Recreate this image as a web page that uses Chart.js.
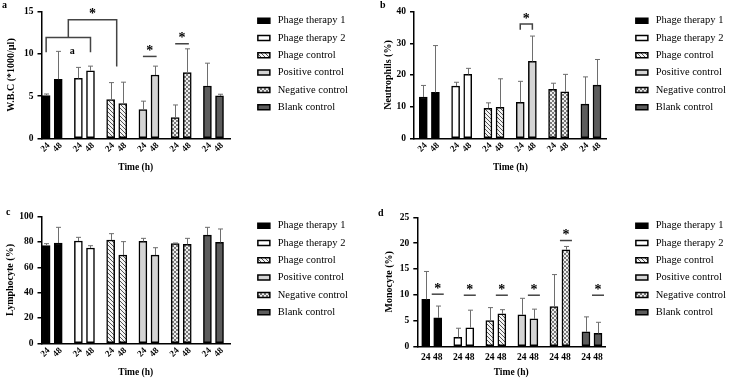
<!DOCTYPE html>
<html>
<head>
<meta charset="utf-8">
<script src="https://cdn.jsdelivr.net/npm/chart.js@4.4.1/dist/chart.umd.min.js"></script>
<style>
  html, body { margin: 0; padding: 0; background: #fff; overflow: hidden; }
  body { width: 729px; height: 383px; position: relative; }
  canvas { position: absolute; }
  .tag { position: absolute; font: bold 10px "Liberation Serif", serif; color: #000; line-height: 10px; }
</style>
</head>
<body>
<canvas id="ca" width="358" height="178" style="left:0;top:0"></canvas>
<canvas id="cb" width="372" height="178" style="left:364px;top:0"></canvas>
<canvas id="cc" width="358" height="178" style="left:0;top:205px"></canvas>
<canvas id="cd" width="372" height="178" style="left:364px;top:205px"></canvas>
<div class="tag" style="left:2px;top:0px">a</div>
<div class="tag" style="left:380px;top:0px">b</div>
<div class="tag" style="left:6px;top:207px">c</div>
<div class="tag" style="left:378px;top:208px">d</div>
<script>
const GROUPS = ['Phage therapy 1', 'Phage therapy 2', 'Phage control', 'Positive control', 'Negative control', 'Blank control'];
const TIMES = ['24', '48'];
// slot of each bar on the x axis (pairs of 24h / 48h, gap between groups)
const SLOTS = [0, 3, 8, 11, 16, 19, 24, 27, 32, 35, 40, 43];

// a: W.B.C
const wbcMean = [5.05, 7.0, 7.1, 8.0, 4.6, 4.1, 3.4, 7.5, 2.45, 7.8, 6.2, 5.02];
const wbcSd   = [0.2, 3.3, 1.3, 0.55, 2.0, 2.55, 1.0, 1.05, 1.5, 2.8, 2.7, 0.2];
// b: Neutrophils
const neuMean = [13.05, 14.5, 16.5, 20.2, 9.5, 9.8, 11.4, 24.3, 15.5, 14.7, 10.8, 16.8];
const neuSd   = [3.65, 14.8, 1.2, 1.9, 1.7, 9.0, 6.6, 8.0, 1.9, 5.5, 8.6, 8.1];
// c: Lymphocyte
const lymMean = [77.1, 79.2, 80.8, 75.3, 81.6, 69.7, 80.5, 69.7, 78.7, 78.2, 85.5, 79.7];
const lymSd   = [1.6, 12.4, 2.9, 1.8, 5.0, 10.6, 2.4, 5.8, 0.5, 4.7, 6.1, 10.6];
// d: Monocyte
const monMean = [9.1, 5.5, 1.74, 3.6, 5.0, 6.3, 6.1, 5.3, 7.7, 18.7, 2.8, 2.5];
const monSd   = [5.4, 2.3, 1.76, 3.4, 2.5, 0.8, 3.2, 1.9, 6.2, 0.65, 2.9, 2.15];

// significance marks: x in slot units, y in data units
const sigA = [
  {x1: 0, x2: 11, y: 11.95, d1: 10.2, d2: 10.2},
  {x1: 5.5, x2: 17.5, y: 14.05, d1: 11.95, d2: 8.5, star: true},
  {text: 'a', x: 6.5, y: 10.3},
  {x1: 24, x2: 27.4, y: 9.7, star: true},
  {x1: 32, x2: 35.4, y: 11.2, star: true}
];
const sigB = [{x1: 24, x2: 27, y: 36.1, d1: 34.3, d2: 34.3, star: true}];
const sigD = [
  {x1: 1.5, x2: 4.5, y: 10.1, star: true},
  {x1: 9.5, x2: 12.5, y: 9.9, star: true},
  {x1: 17.5, x2: 20.5, y: 9.9, star: true},
  {x1: 25.5, x2: 28.5, y: 9.9, star: true},
  {x1: 33.5, x2: 36.5, y: 20.5, star: true},
  {x1: 41.5, x2: 44.5, y: 9.9, star: true}
];

Chart.defaults.font.family = '"Liberation Serif", "Times New Roman", serif';
Chart.defaults.color = '#000';

function pattern(draw) {
  const c = document.createElement('canvas');
  c.width = 4; c.height = 4;
  const g = c.getContext('2d');
  draw(g);
  return g.createPattern(c, 'repeat');
}
const hatch = pattern(g => {
  g.fillStyle = '#f4f4f4'; g.fillRect(0, 0, 4, 4);
  g.strokeStyle = '#555'; g.lineWidth = 1;
  g.beginPath();
  g.moveTo(0, 0); g.lineTo(4, 4);
  g.moveTo(-1, 3); g.lineTo(1, 5);
  g.moveTo(3, -1); g.lineTo(5, 1);
  g.stroke();
});
const checker = pattern(g => {
  g.fillStyle = '#eeeeee'; g.fillRect(0, 0, 4, 4);
  g.fillStyle = '#7a7a7a'; g.fillRect(0, 0, 2, 2); g.fillRect(2, 2, 2, 2);
});
const FILLS = ['#000000', '#ffffff', hatch, '#d4d4d4', checker, '#5c5c5c'];

// one-sided error bars (mean + SD)
const errorBars = {
  id: 'errorBars',
  afterDatasetsDraw(chart) {
    const ctx = chart.ctx, ys = chart.scales.y;
    ctx.save();
    ctx.strokeStyle = '#6e6e6e';
    ctx.lineWidth = 1;
    chart.data.datasets.forEach((ds, i) => {
      chart.getDatasetMeta(i).data.forEach((bar, j) => {
        const top = ys.getPixelForValue(ds.data[j].y + ds.sd[j]);
        const x = Math.round(bar.x) + 0.5;
        ctx.beginPath();
        ctx.moveTo(x, bar.y);
        ctx.lineTo(x, top);
        ctx.moveTo(x - 2.5, top);
        ctx.lineTo(x + 2.5, top);
        ctx.stroke();
      });
    });
    ctx.restore();
  }
};

// brackets, lines and stars
const sigMarks = {
  id: 'sig',
  afterDraw(chart, args, opts) {
    const items = opts.items || [];
    const ctx = chart.ctx, xs = chart.scales.x, ys = chart.scales.y;
    ctx.save();
    ctx.strokeStyle = '#444';
    ctx.lineWidth = 1.5;
    ctx.fillStyle = '#000';
    ctx.textAlign = 'center';
    items.forEach(it => {
      if (it.text) {
        ctx.font = 'bold 10px "Liberation Serif"';
        ctx.textBaseline = 'middle';
        ctx.fillText(it.text, xs.getPixelForValue(it.x), ys.getPixelForValue(it.y));
        return;
      }
      const x1 = xs.getPixelForValue(it.x1), x2 = xs.getPixelForValue(it.x2);
      const y = ys.getPixelForValue(it.y);
      ctx.beginPath();
      if (it.d1 !== undefined) {
        ctx.moveTo(x1, ys.getPixelForValue(it.d1));
        ctx.lineTo(x1, y);
        ctx.lineTo(x2, y);
        ctx.lineTo(x2, ys.getPixelForValue(it.d2));
      } else {
        ctx.moveTo(x1, y);
        ctx.lineTo(x2, y);
      }
      ctx.stroke();
      if (it.star) {
        ctx.font = 'bold 14px "Liberation Serif"';
        ctx.textBaseline = 'alphabetic';
        ctx.fillText('*', (x1 + x2) / 2, y - 8 + 6.6);
      }
    });
    ctx.restore();
  }
};

function build(id, means, sds, p) {
  const datasets = GROUPS.map((name, g) => ({
    label: name,
    data: [0, 1].map(k => ({x: SLOTS[2 * g + k], y: means[2 * g + k]})),
    sd: [sds[2 * g], sds[2 * g + 1]],
    backgroundColor: FILLS[g],
    borderColor: '#000',
    borderWidth: 1.5,
    borderSkipped: false,
    barThickness: 8,
    grouped: false,
    xAxisID: 'x',
    yAxisID: 'y'
  }));
  const H = 178;
  const off = {display: false, drawTicks: false};
  return new Chart(document.getElementById(id), {
    type: 'bar',
    data: {datasets},
    plugins: [errorBars, sigMarks],
    options: {
      responsive: false,
      animation: false,
      layout: {padding: 0},
      plugins: {
        tooltip: {enabled: false},
        sig: {items: p.sig},
        legend: {
          position: 'right',
          align: 'start',
          maxWidth: 300,
          title: {display: true, text: '', font: {size: 1, lineHeight: 1}, padding: {top: 7.65, bottom: 0}},
          labels: {
            boxWidth: 12,
            boxHeight: 5,
            padding: 6.8,
            color: '#000',
            font: {size: 10.5},
            generateLabels: chart => Chart.defaults.plugins.legend.labels.generateLabels(chart)
              .map(l => Object.assign(l, {text: ' ' + l.text}))
          }
        }
      },
      scales: {
        x: {
          type: 'linear',
          position: 'bottom',
          min: p.xMin,
          max: p.xMax,
          bounds: 'data',
          offset: false,
          afterBuildTicks: s => { s.ticks = SLOTS.map(v => ({value: v})); },
          ticks: {
            autoSkip: false,
            minRotation: p.rot,
            maxRotation: p.rot,
            padding: p.tickPad,
            labelOffset: p.rot ? 2.5 : 0,
            font: {size: p.rot ? 9 : 9.5, weight: 'bold'},
            color: '#000',
            callback: (v, i) => TIMES[i % 2]
          },
          grid: off,
          border: {display: true, color: '#000', width: 1.5},
          title: {display: true, text: 'Time (h)', color: '#000', font: {size: 9.5, weight: 'bold'}, padding: {top: 0, bottom: p.xTitlePad}},
          afterFit: s => { s.height = H - p.bottom; }
        },
        t: {
          type: 'linear', position: 'top', display: true,
          grid: off, border: {display: false}, ticks: {display: false},
          afterFit: s => { s.height = p.top; }
        },
        y: {
          type: 'linear',
          position: 'left',
          min: 0,
          max: p.yMax,
          ticks: {stepSize: p.step, padding: 4, color: '#000', font: {size: 9.5, weight: 'bold'}},
          grid: {display: true, drawOnChartArea: false, drawTicks: true, tickLength: 4, color: '#000', lineWidth: 1.5},
          border: {display: true, color: '#000', width: 1.5},
          title: {display: true, text: p.yTitle, color: '#000', font: {size: 10, weight: 'bold'}, padding: {top: p.yTitlePad, bottom: 0}},
          afterFit: s => { s.width = p.left; }
        },
        r: {
          type: 'linear', position: 'right', display: true,
          grid: off, border: {display: false}, ticks: {display: false},
          afterFit: s => { s.width = s.chart.width - s.chart.legend.width - p.right; }
        }
      }
    }
  });
}

build('ca', wbcMean, wbcSd, {yMax: 15, step: 5, yTitle: 'W.B.C (*1000/µl)', yTitlePad: 5.7,
  left: 41.5, right: 230, top: 11.7, bottom: 138.3, xMin: -1.15, xMax: 45.6, rot: 45, tickPad: 2, xTitlePad: 4.3, sig: sigA});
build('cb', neuMean, neuSd, {yMax: 40, step: 10, yTitle: 'Neutrophils (%)', yTitlePad: 18.3,
  left: 50, right: 242.7, top: 11.7, bottom: 138.3, xMin: -2.3, xMax: 45.4, rot: 45, tickPad: 2, xTitlePad: 4.3, sig: sigB});
build('cc', lymMean, lymSd, {yMax: 100, step: 20, yTitle: 'Lymphocyte (%)', yTitlePad: 4.7,
  left: 41.5, right: 230, top: 11.7, bottom: 138.3, xMin: -1.15, xMax: 45.6, rot: 45, tickPad: 2, xTitlePad: 4.3, sig: []});
build('cd', monMean, monSd, {yMax: 25, step: 5, yTitle: 'Monocyte (%)', yTitlePad: 19.3,
  left: 53.3, right: 241, top: 12.3, bottom: 141.3, xMin: -2.1, xMax: 44.75, rot: 0, tickPad: 6, xTitlePad: 4.6, sig: sigD});
</script>
</body>
</html>
